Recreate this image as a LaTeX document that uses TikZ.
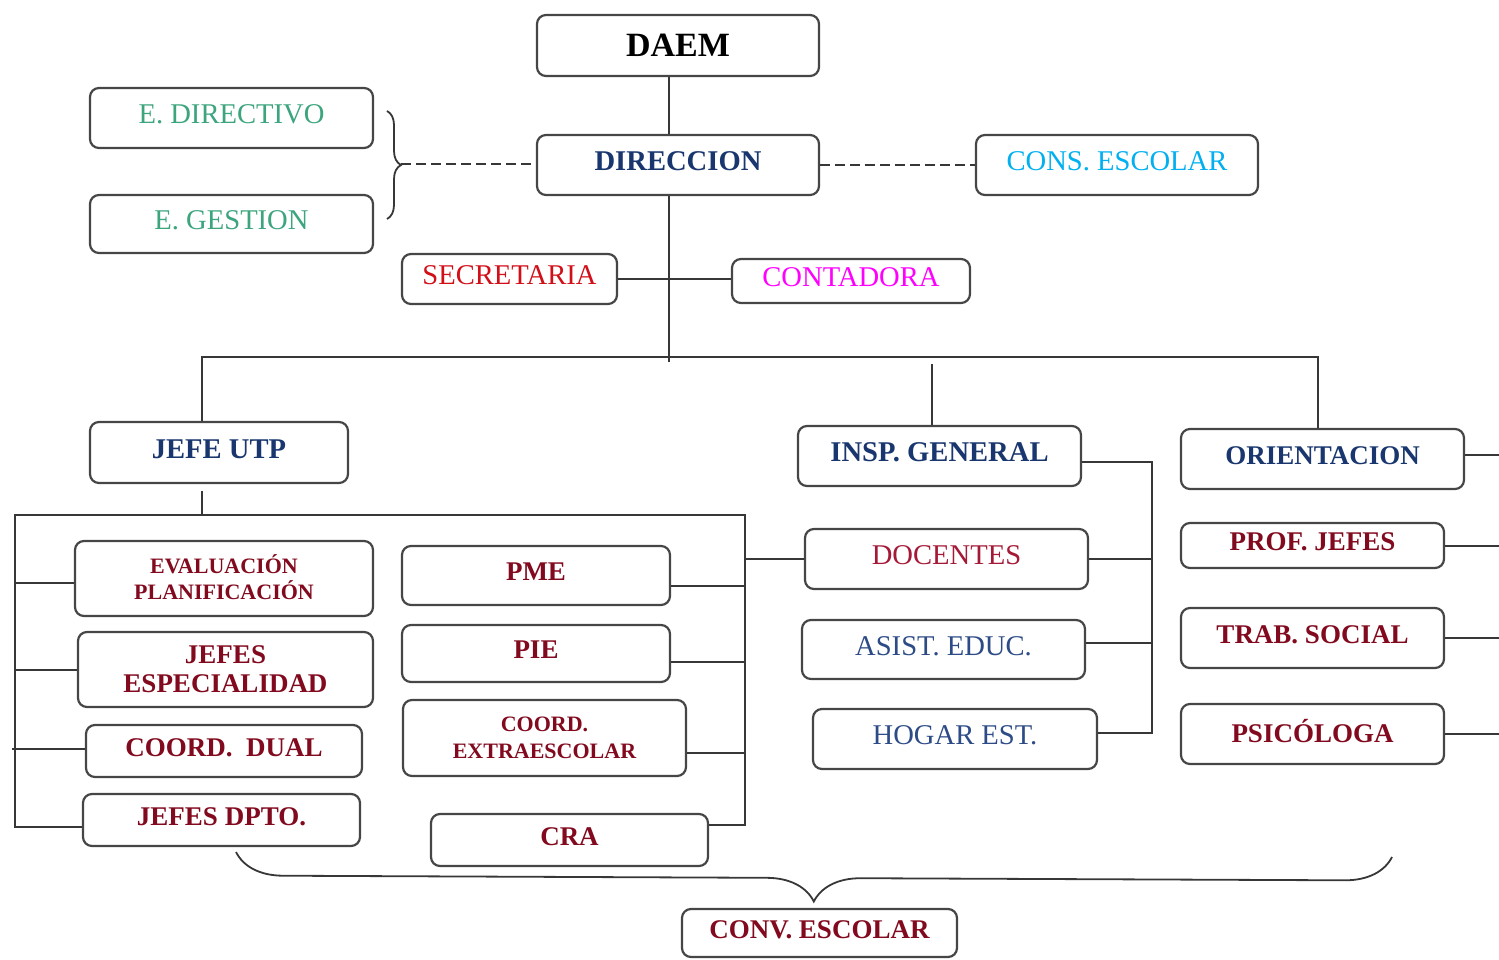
\documentclass[tikz,border=0pt]{standalone}
\usepackage{fontspec}
\setmainfont{Liberation Serif}
\usetikzlibrary{calc,decorations.pathreplacing}
\definecolor{boxc}{RGB}{70,70,70}
\definecolor{linec}{RGB}{55,55,55}
\definecolor{tealA}{RGB}{60,165,125}
\definecolor{skyA}{RGB}{0,176,240}
\definecolor{redA}{RGB}{210,15,25}
\definecolor{magA}{RGB}{255,0,255}
\definecolor{navyA}{RGB}{25,55,110}
\definecolor{maroonA}{RGB}{130,10,30}
\definecolor{docred}{RGB}{165,25,55}
\definecolor{slateA}{RGB}{45,75,135}
\begin{document}
\begin{tikzpicture}[x=0.5pt,y=-0.5pt,
  box/.style 2 args={draw=boxc, line width=1.1pt, rounded corners=4.5pt, fill=white,
    minimum width=#1*0.5pt, minimum height=#2*0.5pt, inner sep=0pt, align=center},
  reg/.style={font=\fontsize{14.3}{16}\selectfont, text depth=3.5pt},
  bld/.style={font=\fontsize{13.5}{14.5}\selectfont\bfseries, text depth=3.5pt},
  bldM/.style={font=\fontsize{13.5}{14.5}\selectfont\bfseries},
  bldL/.style={font=\fontsize{14.3}{16}\selectfont\bfseries, text depth=3.5pt},
  small/.style={font=\fontsize{11}{13.5}\selectfont\bfseries},
  conn/.style={draw=linec, line width=1pt},
  dconn/.style={conn, dash pattern=on 5pt off 2.5pt},
  bracec/.style={draw=linec, line width=0.9pt, decorate, decoration={brace, amplitude=#1}}]
\useasboundingbox (0,0) rectangle (1499,959);

% nodes
\node[box={282}{61}, font=\fontsize{17}{19}\selectfont\bfseries] (daem) at (678,45.5) {DAEM};
\node[box={282}{60}, bldL, text=navyA] (dir) at (678,165) {DIRECCION};
\node[box={282}{60}, reg, text=skyA] (cons) at (1117,165) {CONS. ESCOLAR};
\node[box={283}{60}, reg, text=tealA] (edir) at (231.5,118) {E. DIRECTIVO};
\node[box={283}{58}, reg, text=tealA] (eges) at (231.5,224) {E. GESTION};
\node[box={215}{50}, reg, text=redA] (sec) at (509.5,279) {SECRETARIA};
\node[box={238}{44}, reg, text=magA] (cont) at (851,281) {CONTADORA};
\node[box={258}{61}, bldL, text=navyA] (utp) at (219,452.5) {JEFE UTP};
\node[box={283}{60}, bldL, text=navyA] (insp) at (939.5,456) {INSP. GENERAL};
\node[box={283}{60}, bld, text=navyA] (orient) at (1322.5,459) {ORIENTACION};
\node[box={298}{75}, small, text=maroonA] (eval) at (224,578.5) {\raisebox{1.5pt}{\shortstack{EVALUACIÓN\\[0.5pt]PLANIFICACIÓN}}};
\node[box={295}{75}, bldM, text=maroonA] (jesp) at (225.5,669.5) {JEFES\\ESPECIALIDAD};
\node[box={276}{52}, bld, text=maroonA] (cdual) at (224,751) {COORD.~\ DUAL};
\node[box={277}{52}, bld, text=maroonA] (jdpto) at (221.5,820) {JEFES DPTO.};
\node[box={268}{59}, bld, text=maroonA] (pme) at (536,575.5) {PME};
\node[box={268}{57}, bld, text=maroonA] (pie) at (536,653.5) {PIE};
\node[box={283}{76}, small, text=maroonA] (cextra) at (544.5,738) {COORD.\\EXTRAESCOLAR};
\node[box={277}{52}, bld, text=maroonA] (cra) at (569.5,840) {CRA};
\node[box={283}{60}, reg, text=docred] (doc) at (946.5,559) {DOCENTES};
\node[box={283}{59}, reg, text=slateA] (asist) at (943.5,649.5) {ASIST. EDUC.};
\node[box={284}{60}, reg, text=slateA] (hogar) at (955,739) {HOGAR EST.};
\node[box={263}{45}, bld, text=maroonA] (prof) at (1312.5,545.5) {PROF. JEFES};
\node[box={263}{60}, bld, text=maroonA] (trab) at (1312.5,638) {TRAB. SOCIAL};
\node[box={263}{60}, bld, text=maroonA] (psico) at (1312.5,734) {PSICÓLOGA};
\node[box={275}{48}, bld, text=maroonA] (conv) at (819.5,933) {CONV. ESCOLAR};

% coordinates
\coordinate (trunk) at (669,362);
\coordinate (busL) at (202,357);
\coordinate (busR) at (1318,357);
\coordinate (midtop) at (932,364);
\coordinate (btip) at (401,164);
\coordinate (ftop) at (202,515);
\coordinate (fTL) at (15,515);
\coordinate (fTR) at (745,515);
\coordinate (fBL) at (15,827);
\coordinate (dualL) at (12,749);
\coordinate (ibus) at (1152,462);
\coordinate (redge) at (1500,0);
\coordinate (evalC) at ($(eval.west)+(0,4)$);
\coordinate (pmeC) at ($(pme.east)+(0,10)$);
\coordinate (pieC) at ($(pie.east)+(0,8)$);
\coordinate (cexC) at ($(cextra.east)+(0,15)$);
\coordinate (craC) at ($(cra.east)+(0,-15)$);
\coordinate (asC) at ($(asist.east)+(0,-7)$);
\coordinate (hoC) at ($(hogar.east)+(0,-6)$);
\coordinate (orC) at ($(orient.east)+(0,-4)$);

% top connectors
\draw[conn] (daem.south -| trunk) -- (dir.north -| trunk);
\draw[conn] (dir.south -| trunk) -- (trunk);
\draw[conn] (sec.east) -- (sec.east -| cont.west);
\draw[dconn] (btip) -- (btip -| dir.west);
\draw[dconn] (dir.east) -- (cons.west);
\draw[bracec=7pt] (387,111) -- (387,219);

% bus
\draw[conn] (utp.north -| busL) -- (busL) -- (busR) -- (orient.north -| busR);
\draw[conn] (midtop) -- (insp.north -| midtop);

% UTP frame
\draw[conn] ($(utp.south -| ftop)+(0,7)$) -- (ftop);
\draw[conn] (fBL -| jdpto.west) -- (fBL) -- (fTL) -- (fTR) -- (fTR |- craC) -- (craC);
\draw[conn] (evalC) -- (evalC -| fTL);
\draw[conn] (jesp.west) -- (jesp.west -| fTL);
\draw[conn] (dualL) -- (dualL -| cdual.west);
\draw[conn] (pmeC) -- (pmeC -| fTR);
\draw[conn] (pieC) -- (pieC -| fTR);
\draw[conn] (cexC) -- (cexC -| fTR);
\draw[conn] (fTR |- doc.west) -- (doc.west);

% inspectoria
\draw[conn] (ibus -| insp.east) -- (ibus) -- (ibus |- hoC) -- (hoC);
\draw[conn] (doc.east) -- (doc.east -| ibus);
\draw[conn] (asC) -- (asC -| ibus);

% orientacion
\draw[conn] (orC) -- (orC -| redge);
\draw[conn] (prof.east) -- (prof.east -| redge);
\draw[conn] (trab.east) -- (trab.east -| redge);
\draw[conn] (psico.east) -- (psico.east -| redge);

% bottom brace
\draw[bracec=23.5pt] (1392,857) -- (236,852);
\end{tikzpicture}
\end{document}
